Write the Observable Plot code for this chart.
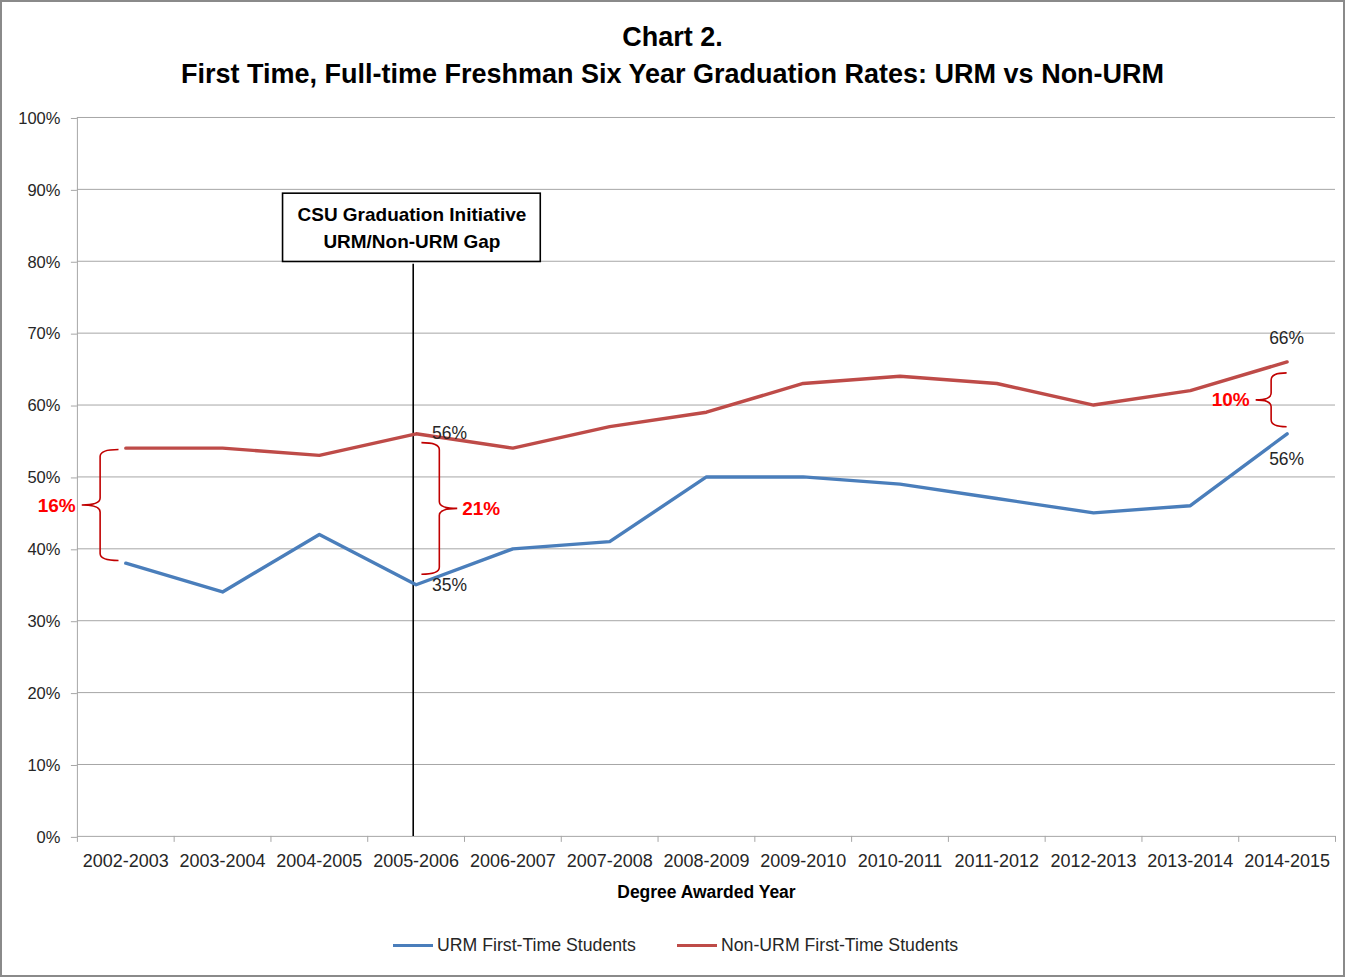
<!DOCTYPE html>
<html>
<head>
<meta charset="utf-8">
<script src="https://cdn.jsdelivr.net/npm/d3@7"></script>
<script src="https://cdn.jsdelivr.net/npm/@observablehq/plot@0.6"></script>
<style>
  html, body { margin: 0; padding: 0; background: #fff; }
  #frame { position: relative; width: 1345px; height: 977px; box-sizing: border-box; border: 2px solid #8a8a8a; background: #fff; overflow: hidden; font-family: "Liberation Sans", Arial, sans-serif; }
  .title { position: absolute; left: 0; width: 1341px; text-align: center; font-weight: bold; color: #000; font-size: 27px; }
  #chart { position: absolute; left: -2px; top: 96px; }
  #legend { position: absolute; top: 933px; left: 0; width: 1341px; font-size: 17.7px; color: #262626; }
  .lg { position: absolute; display: flex; align-items: center; }
  .sw { width: 40px; height: 3px; margin-right: 4px; }
</style>
</head>
<body>
<div id="frame">
  <div class="title" style="top:20px">Chart 2.</div>
  <div class="title" style="top:57px">First Time, Full-time Freshman Six Year Graduation Rates: URM vs Non-URM</div>
  <div id="chart"></div>
  <div id="legend">
    <div class="lg" style="left:391px"><div class="sw" style="background:#4a7ebb"></div>URM First-Time Students</div>
    <div class="lg" style="left:675px"><div class="sw" style="background:#be4b48"></div>Non-URM First-Time Students</div>
  </div>
</div>
<script>
// ---- data ----
const years = ["2002-2003","2003-2004","2004-2005","2005-2006","2006-2007","2007-2008","2008-2009","2009-2010","2010-2011","2011-2012","2012-2013","2013-2014","2014-2015"];
const urm = [38, 34, 42, 35, 40, 41, 50, 50, 49, 47, 45, 46, 56];
const nonUrm = [54, 54, 53, 56, 54, 57, 59, 63, 64, 63, 60, 62, 66];
const yTicks = [0, 10, 20, 30, 40, 50, 60, 70, 80, 90, 100];
const seriesNames = ["URM First-Time Students", "Non-URM First-Time Students"];
const seriesColors = ["#4a7ebb", "#be4b48"];
const xTitle = "Degree Awarded Year";

// annotations (data units: x = year index, y = percent)
const initiative = {x: 2.97, yTop: 79.6, x1: 1.625, x2: 4.288, y1: 79.9, y2: 89.4, lines: ["CSU Graduation Initiative", "URM/Non-URM Gap"]};
const braces = [
  {x: -0.26, hook: -0.07, tip: -0.45, y1: 53.75, y2: 38.3, label: "16%"},
  {x: 3.245, hook: 3.06, tip: 3.43, y1: 54.7, y2: 36.4, label: "21%"},
  {x: 11.84, hook: 12.0, tip: 11.68, y1: 64.4, y2: 56.9, label: "10%"}
];
const pointLabels = [
  {i: 3, v: 56, dx: 16, dy: 0},
  {i: 3, v: 35, dx: 16, dy: 1},
  {i: 12, v: 66, dx: -18, dy: -24},
  {i: 12, v: 56, dx: -18, dy: 26}
];

const rows = [];
years.forEach((yr, i) => {
  rows.push({i, year: yr, value: urm[i], series: seriesNames[0]});
  rows.push({i, year: yr, value: nonUrm[i], series: seriesNames[1]});
});

function braceMark(index, scales, values, dimensions) {
  const g = d3.create("svg:g");
  for (const b of braces) {
    const x = scales.x(b.x), h = scales.x(b.hook), t = scales.x(b.tip);
    const y1 = scales.y(b.y1), y2 = scales.y(b.y2), ym = (y1 + y2) / 2;
    const r = 7;
    const path = `M${h},${y1} Q${x},${y1} ${x},${y1 + r} L${x},${ym - r} Q${x},${ym} ${t},${ym} Q${x},${ym} ${x},${ym + r} L${x},${y2 - r} Q${x},${y2} ${h},${y2}`;
    g.append("path").attr("d", path).attr("fill", "none").attr("stroke", "#c00000").attr("stroke-width", 1.6);
    const left = t < x;
    g.append("text")
      .attr("x", left ? t - 6 : t + 5)
      .attr("y", ym)
      .attr("dy", "0.35em")
      .attr("text-anchor", left ? "end" : "start")
      .attr("fill", "#ff0000")
      .attr("font-weight", "bold")
      .attr("font-size", 19)
      .attr("font-family", "Liberation Sans, Arial, sans-serif")
      .text(b.label);
  }
  return g.node();
}

const chart = Plot.plot({
  width: 1345,
  height: 812,
  marginLeft: 77,
  marginRight: 8,
  marginTop: 19,
  marginBottom: 73,
  style: {fontFamily: "Liberation Sans, Arial, sans-serif", background: "transparent", color: "#262626"},
  x: {type: "linear", domain: [-0.5, 12.5]},
  y: {domain: [0, 100]},
  marks: [
    Plot.gridY(yTicks, {stroke: "#a6a6a6", strokeOpacity: 1, strokeWidth: 1}),
    Plot.ruleX([-0.5], {stroke: "#a6a6a6", strokeWidth: 1}),
    Plot.axisY(yTicks, {tickSize: 6, stroke: "#a6a6a6", fill: "#262626", tickPadding: 11, fontSize: 16.5, dy: 1, tickFormat: d => d + "%", label: null}),
    Plot.axisX(d3.range(-0.5, 13, 1), {tickSize: 6, stroke: "#a6a6a6", tickFormat: () => "", label: null}),
    Plot.axisX(d3.range(years.length), {tickSize: 0, tickPadding: 18, fontSize: 18, fill: "#262626", tickFormat: i => years[i], label: null}),
    Plot.text([xTitle], {frameAnchor: "bottom", dy: 62, fontSize: 17.5, fontWeight: "bold", fill: "#000"}),
    Plot.ruleX([initiative.x], {y1: 0, y2: initiative.yTop, stroke: "#000", strokeWidth: 1.6}),
    Plot.line(rows, {x: "i", y: "value", z: "series", stroke: "series", strokeWidth: 3.4, strokeLinejoin: "round", strokeLinecap: "round"}),
    Plot.rect([initiative], {x1: "x1", x2: "x2", y1: "y1", y2: "y2", fill: "#fff", stroke: "#000", strokeWidth: 1.6}),
    Plot.text([initiative], {x: d => (d.x1 + d.x2) / 2, y: d => (d.y1 + d.y2) / 2, dy: -2, text: d => d.lines.join("\n"), lineHeight: 1.42, fontSize: 19, fontWeight: "bold", fill: "#000"}),
    braceMark,
    ...pointLabels.map(d => Plot.text([d], {x: "i", y: "v", text: p => p.v + "%", dx: d.dx, dy: d.dy, textAnchor: "start", fontSize: 17.5, fill: "#262626"}))
  ],
  color: {domain: seriesNames, range: seriesColors}
});
document.getElementById("chart").appendChild(chart);
</script>
</body>
</html>
